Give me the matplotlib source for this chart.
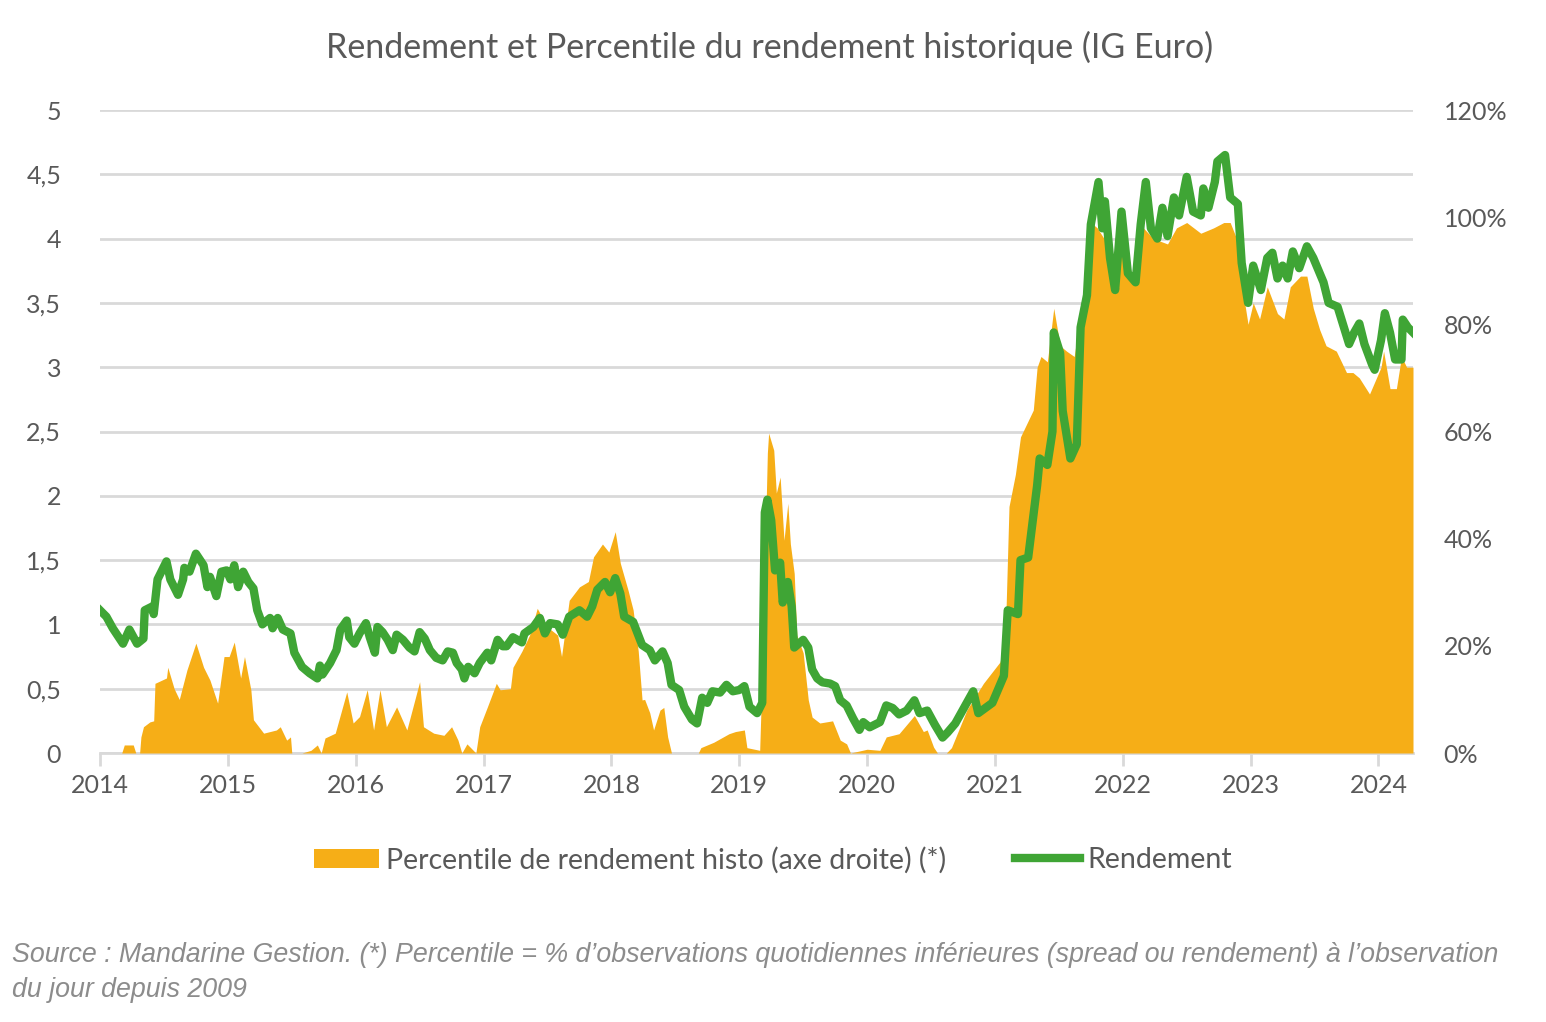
import numpy as np
import matplotlib
matplotlib.use("Agg")
import matplotlib.pyplot as plt
from matplotlib.patches import Patch
from matplotlib.lines import Line2D

# Rendement (axe gauche) : date décimale, valeur
yield_dates = [
    2014.00, 2014.05, 2014.10, 2014.18, 2014.23, 2014.29, 2014.34, 2014.35, 2014.41, 2014.42,
    2014.45, 2014.48, 2014.52, 2014.55, 2014.61, 2014.65, 2014.66, 2014.70, 2014.75, 2014.81,
    2014.84, 2014.86, 2014.91, 2014.95, 2014.99, 2015.02, 2015.05, 2015.08, 2015.12, 2015.16,
    2015.20, 2015.23, 2015.27, 2015.33, 2015.35, 2015.39, 2015.43, 2015.49, 2015.52, 2015.58,
    2015.64, 2015.70, 2015.72, 2015.74, 2015.80, 2015.85, 2015.88, 2015.93, 2015.95, 2015.99,
    2016.03, 2016.08, 2016.11, 2016.15, 2016.17, 2016.21, 2016.25, 2016.29, 2016.32, 2016.37,
    2016.42, 2016.46, 2016.50, 2016.54, 2016.58, 2016.63, 2016.68, 2016.72, 2016.76, 2016.79,
    2016.83, 2016.85, 2016.88, 2016.93, 2016.97, 2017.03, 2017.06, 2017.11, 2017.15, 2017.18,
    2017.23, 2017.30, 2017.32, 2017.39, 2017.44, 2017.48, 2017.52, 2017.58, 2017.62, 2017.67,
    2017.75, 2017.81, 2017.85, 2017.89, 2017.95, 2017.99, 2018.03, 2018.07, 2018.10, 2018.17,
    2018.24, 2018.30, 2018.34, 2018.40, 2018.44, 2018.47, 2018.53, 2018.57, 2018.63, 2018.67,
    2018.71, 2018.75, 2018.79, 2018.85, 2018.90, 2018.95, 2019.00, 2019.04, 2019.08, 2019.14,
    2019.18, 2019.20, 2019.22, 2019.25, 2019.28, 2019.32, 2019.34, 2019.38, 2019.41, 2019.43,
    2019.50, 2019.54, 2019.57, 2019.61, 2019.65, 2019.71, 2019.75, 2019.79, 2019.84, 2019.89,
    2019.94, 2019.97, 2020.02, 2020.10, 2020.15, 2020.20, 2020.25, 2020.31, 2020.37, 2020.41,
    2020.47, 2020.53, 2020.59, 2020.63, 2020.69, 2020.83, 2020.87, 2020.98, 2021.07, 2021.10,
    2021.18, 2021.20, 2021.26, 2021.33, 2021.35, 2021.41, 2021.45, 2021.46, 2021.51, 2021.53,
    2021.59, 2021.64, 2021.67, 2021.72, 2021.75, 2021.81, 2021.84, 2021.86, 2021.90, 2021.94,
    2021.99, 2022.04, 2022.10, 2022.14, 2022.18, 2022.22, 2022.27, 2022.31, 2022.35, 2022.40,
    2022.44, 2022.50, 2022.55, 2022.61, 2022.63, 2022.67, 2022.72, 2022.74, 2022.80, 2022.84,
    2022.90, 2022.93, 2022.98, 2023.02, 2023.08, 2023.13, 2023.17, 2023.21, 2023.25, 2023.29,
    2023.33, 2023.38, 2023.44, 2023.49, 2023.57, 2023.61, 2023.68, 2023.73, 2023.77, 2023.81,
    2023.85, 2023.89, 2023.95, 2023.97, 2024.02, 2024.05, 2024.09, 2024.13, 2024.18, 2024.19,
    2024.23, 2024.27,
]
yield_values = [
    1.11, 1.06, 0.97, 0.85, 0.96, 0.85, 0.89, 1.11, 1.14, 1.08,
    1.35, 1.41, 1.49, 1.35, 1.23, 1.35, 1.44, 1.41, 1.55, 1.46,
    1.29, 1.37, 1.22, 1.41, 1.42, 1.35, 1.46, 1.29, 1.41, 1.33,
    1.28, 1.11, 1.00, 1.05, 0.97, 1.05, 0.96, 0.93, 0.78, 0.67,
    0.62, 0.58, 0.68, 0.61, 0.70, 0.80, 0.96, 1.03, 0.90, 0.85,
    0.93, 1.01, 0.90, 0.78, 0.98, 0.94, 0.88, 0.80, 0.92, 0.88,
    0.82, 0.79, 0.94, 0.89, 0.80, 0.74, 0.72, 0.79, 0.78, 0.70,
    0.65, 0.58, 0.67, 0.62, 0.70, 0.78, 0.72, 0.88, 0.83, 0.83,
    0.90, 0.86, 0.93, 0.98, 1.05, 0.93, 1.01, 1.00, 0.92, 1.06,
    1.11, 1.06, 1.14, 1.27, 1.33, 1.25, 1.36, 1.24, 1.06, 1.02,
    0.84, 0.80, 0.72, 0.79, 0.70, 0.53, 0.49, 0.36, 0.26, 0.23,
    0.43, 0.39, 0.48, 0.47, 0.53, 0.48, 0.49, 0.52, 0.36, 0.31,
    0.39, 1.87, 1.97, 1.81, 1.42, 1.48, 1.17, 1.33, 1.14, 0.82,
    0.88, 0.82, 0.65, 0.58, 0.55, 0.54, 0.52, 0.41, 0.37, 0.27,
    0.18, 0.24, 0.20, 0.24, 0.37, 0.35, 0.30, 0.33, 0.41, 0.31,
    0.33, 0.22, 0.12, 0.16, 0.23, 0.48, 0.31, 0.39, 0.60, 1.11,
    1.08, 1.50, 1.52, 2.08, 2.29, 2.24, 2.50, 3.27, 3.11, 2.66,
    2.29, 2.40, 3.31, 3.56, 4.11, 4.44, 4.08, 4.29, 3.85, 3.60,
    4.21, 3.73, 3.66, 4.11, 4.44, 4.08, 4.00, 4.24, 4.02, 4.32,
    4.18, 4.48, 4.21, 4.18, 4.39, 4.24, 4.44, 4.60, 4.65, 4.32,
    4.27, 3.81, 3.50, 3.79, 3.60, 3.85, 3.89, 3.69, 3.79, 3.69,
    3.90, 3.77, 3.94, 3.85, 3.66, 3.50, 3.47, 3.31, 3.18, 3.27,
    3.34, 3.18, 3.02, 2.98, 3.21, 3.42, 3.27, 3.06, 3.06, 3.37,
    3.31, 3.27,
]

# Percentile (axe droit, %) : date décimale, valeur
pct_dates = [
    2014.00, 2014.17, 2014.19, 2014.26, 2014.28, 2014.31, 2014.32, 2014.34, 2014.39, 2014.42,
    2014.43, 2014.52, 2014.53, 2014.58, 2014.62, 2014.68, 2014.75, 2014.81, 2014.86, 2014.92,
    2014.97, 2015.01, 2015.05, 2015.10, 2015.13, 2015.18, 2015.20, 2015.28, 2015.38, 2015.41,
    2015.46, 2015.49, 2015.50, 2015.58, 2015.65, 2015.70, 2015.73, 2015.76, 2015.84, 2015.93,
    2015.98, 2016.03, 2016.09, 2016.14, 2016.19, 2016.24, 2016.32, 2016.40, 2016.50, 2016.53,
    2016.61, 2016.69, 2016.75, 2016.80, 2016.83, 2016.87, 2016.94, 2016.97, 2017.03, 2017.10,
    2017.13, 2017.21, 2017.23, 2017.30, 2017.36, 2017.42, 2017.50, 2017.58, 2017.61, 2017.67,
    2017.75, 2017.82, 2017.86, 2017.93, 2017.98, 2018.03, 2018.07, 2018.13, 2018.17, 2018.21,
    2018.24, 2018.26, 2018.30, 2018.33, 2018.38, 2018.41, 2018.44, 2018.47, 2018.68, 2018.70,
    2018.80, 2018.92, 2018.97, 2019.04, 2019.06, 2019.16, 2019.18, 2019.22, 2019.23, 2019.27,
    2019.29, 2019.32, 2019.35, 2019.38, 2019.40, 2019.43, 2019.45, 2019.50, 2019.54, 2019.57,
    2019.63, 2019.73, 2019.79, 2019.84, 2019.87, 2020.00, 2020.10, 2020.15, 2020.25, 2020.37,
    2020.44, 2020.47, 2020.52, 2020.55, 2020.62, 2020.66, 2020.78, 2020.91, 2021.04, 2021.08,
    2021.11, 2021.16, 2021.20, 2021.24, 2021.30, 2021.33, 2021.36, 2021.41, 2021.46, 2021.51,
    2021.56, 2021.62, 2021.67, 2021.72, 2021.75, 2021.80, 2021.88, 2021.93, 2021.98, 2022.06,
    2022.11, 2022.16, 2022.24, 2022.35, 2022.42, 2022.50, 2022.61, 2022.71, 2022.79, 2022.84,
    2022.89, 2022.94, 2022.98, 2023.02, 2023.07, 2023.13, 2023.21, 2023.26, 2023.31, 2023.39,
    2023.44, 2023.49, 2023.54, 2023.59, 2023.67, 2023.75, 2023.80, 2023.85, 2023.93, 2024.02,
    2024.04, 2024.09, 2024.14, 2024.18, 2024.22, 2024.27,
]
pct_values = [
    0, 0, 1.5, 1.5, 0, 0, 3, 4.9, 5.8, 6,
    13, 14, 16, 12, 10, 15.5, 20.5, 16, 13.6, 9.3,
    18, 18, 20.7, 14, 18, 11.8, 6.2, 3.7, 4.3, 4.9,
    2.4, 3, 0, 0, 0.5, 1.5, 0, 2.8, 3.7, 11.4,
    5.6, 6.8, 11.8, 4.3, 11.8, 4.9, 8.6, 4.3, 13.3, 4.9,
    3.7, 3.3, 4.9, 2.4, 0, 1.7, 0, 4.9, 8.6, 13,
    11.8, 12, 16, 19, 22, 27, 23.5, 22, 18, 28.5,
    31, 32, 36.6, 39, 37.5, 41.3, 35.4, 30.4, 26.7, 19,
    9.9, 10, 7.5, 4.3, 8, 8.5, 3, 0, 0, 1,
    2, 3.6, 4, 4.3, 1, 0.5, 16, 56, 59.7, 56.5,
    48.5, 51.5, 39.7, 46.6, 39, 33.5, 22, 18.7, 9.9, 6.7,
    5.6, 6, 2.4, 1.7, 0, 0.7, 0.5, 3, 3.6, 7,
    4, 4.3, 1.1, 0, 0, 1, 8, 13, 17, 21,
    46, 52, 59, 61, 64, 72, 74, 73, 83, 76,
    75, 74, 82, 87, 99, 98, 95, 86, 98, 89,
    89, 98, 96, 95, 98, 99, 97, 98, 99, 99,
    96, 86, 80, 84, 81, 87, 82, 81, 87, 89,
    89, 83, 79, 76, 75, 71, 71, 70, 67, 72,
    75, 68, 68, 74, 72, 72,
]

years = list(range(2014, 2025))
left_ticks = [0, 0.5, 1, 1.5, 2, 2.5, 3, 3.5, 4, 4.5, 5]
left_labels = ["0", "0,5", "1", "1,5", "2", "2,5", "3", "3,5", "4", "4,5", "5"]
right_ticks = [0, 20, 40, 60, 80, 100, 120]

orange = "#F6AE17"
green = "#3FA535"
grey_text = "#595959"
grid_col = "#D9D9D9"

plt.rcParams["font.family"] = ["Lato", "DejaVu Sans"]

fig = plt.figure(figsize=(15.46, 10.22), dpi=100)
rect = [100 / 1546, 1 - 753 / 1022, 1313 / 1546, 643 / 1022]

ax = fig.add_axes(rect)
ax.set_xlim(2014, 2024.27)
ax.set_ylim(0, 5)
ax.set_yticks(left_ticks)
ax.set_yticklabels(left_labels)
ax.set_xticks(years)
ax.set_xticklabels([str(y) for y in years])
ax.grid(axis="y", color=grid_col, linewidth=2)
ax.set_axisbelow(True)
for s in ["top", "right", "left"]:
    ax.spines[s].set_visible(False)
ax.spines["bottom"].set_color(grid_col)
ax.spines["bottom"].set_linewidth(2)
ax.tick_params(axis="y", length=0, pad=28, labelsize=18, labelcolor=grey_text)
ax.tick_params(axis="x", length=9, width=2, color=grid_col, pad=6, labelsize=18, labelcolor=grey_text)

# percentile (axe droit)
axp = ax.twinx()
axp.fill_between(pct_dates, pct_values, 0, color=orange, linewidth=0)
axp.set_ylim(0, 120)
axp.set_yticks(right_ticks)
axp.set_yticklabels([f"{t}%" for t in right_ticks])
axp.tick_params(axis="y", length=0, pad=22, labelsize=18, labelcolor=grey_text)
for s in axp.spines.values():
    s.set_visible(False)

# rendement (axe gauche, au-dessus)
axl = ax.twinx()
axl.plot(yield_dates, yield_values, color=green, linewidth=6, solid_joinstyle="round")
axl.set_ylim(0, 5)
axl.set_yticks([])
for s in axl.spines.values():
    s.set_visible(False)
axl.set_xlim(2014, 2024.27)

fig.text(0.498, 1 - 47 / 1022, "Rendement et Percentile du rendement historique (IG Euro)",
         ha="center", va="center", fontsize=24.5, color=grey_text)

handles = [Patch(facecolor=orange, edgecolor="none"),
           Line2D([0], [0], color=green, linewidth=6)]
fig.legend(handles, ["Percentile de rendement histo (axe droite) (*)", "Rendement"],
           loc="center", bbox_to_anchor=(0.5, 1 - 860 / 1022), ncol=2, frameon=False,
           fontsize=20.5, labelcolor=grey_text, handlelength=2.3, handleheight=0.7,
           handletextpad=0.25, columnspacing=2.4)

note_kw = dict(ha="left", va="center", fontsize=19.3, color="#8C8C8C", style="italic",
               family=["Liberation Sans", "DejaVu Sans"])
fig.text(12 / 1546, 1 - 955 / 1022,
         "Source : Mandarine Gestion. (*) Percentile = % d’observations quotidiennes inférieures "
         "(spread ou rendement) à l’observation", **note_kw)
fig.text(12 / 1546, 1 - 990 / 1022, "du jour depuis 2009", **note_kw)

fig.savefig("out.png", dpi=100)
